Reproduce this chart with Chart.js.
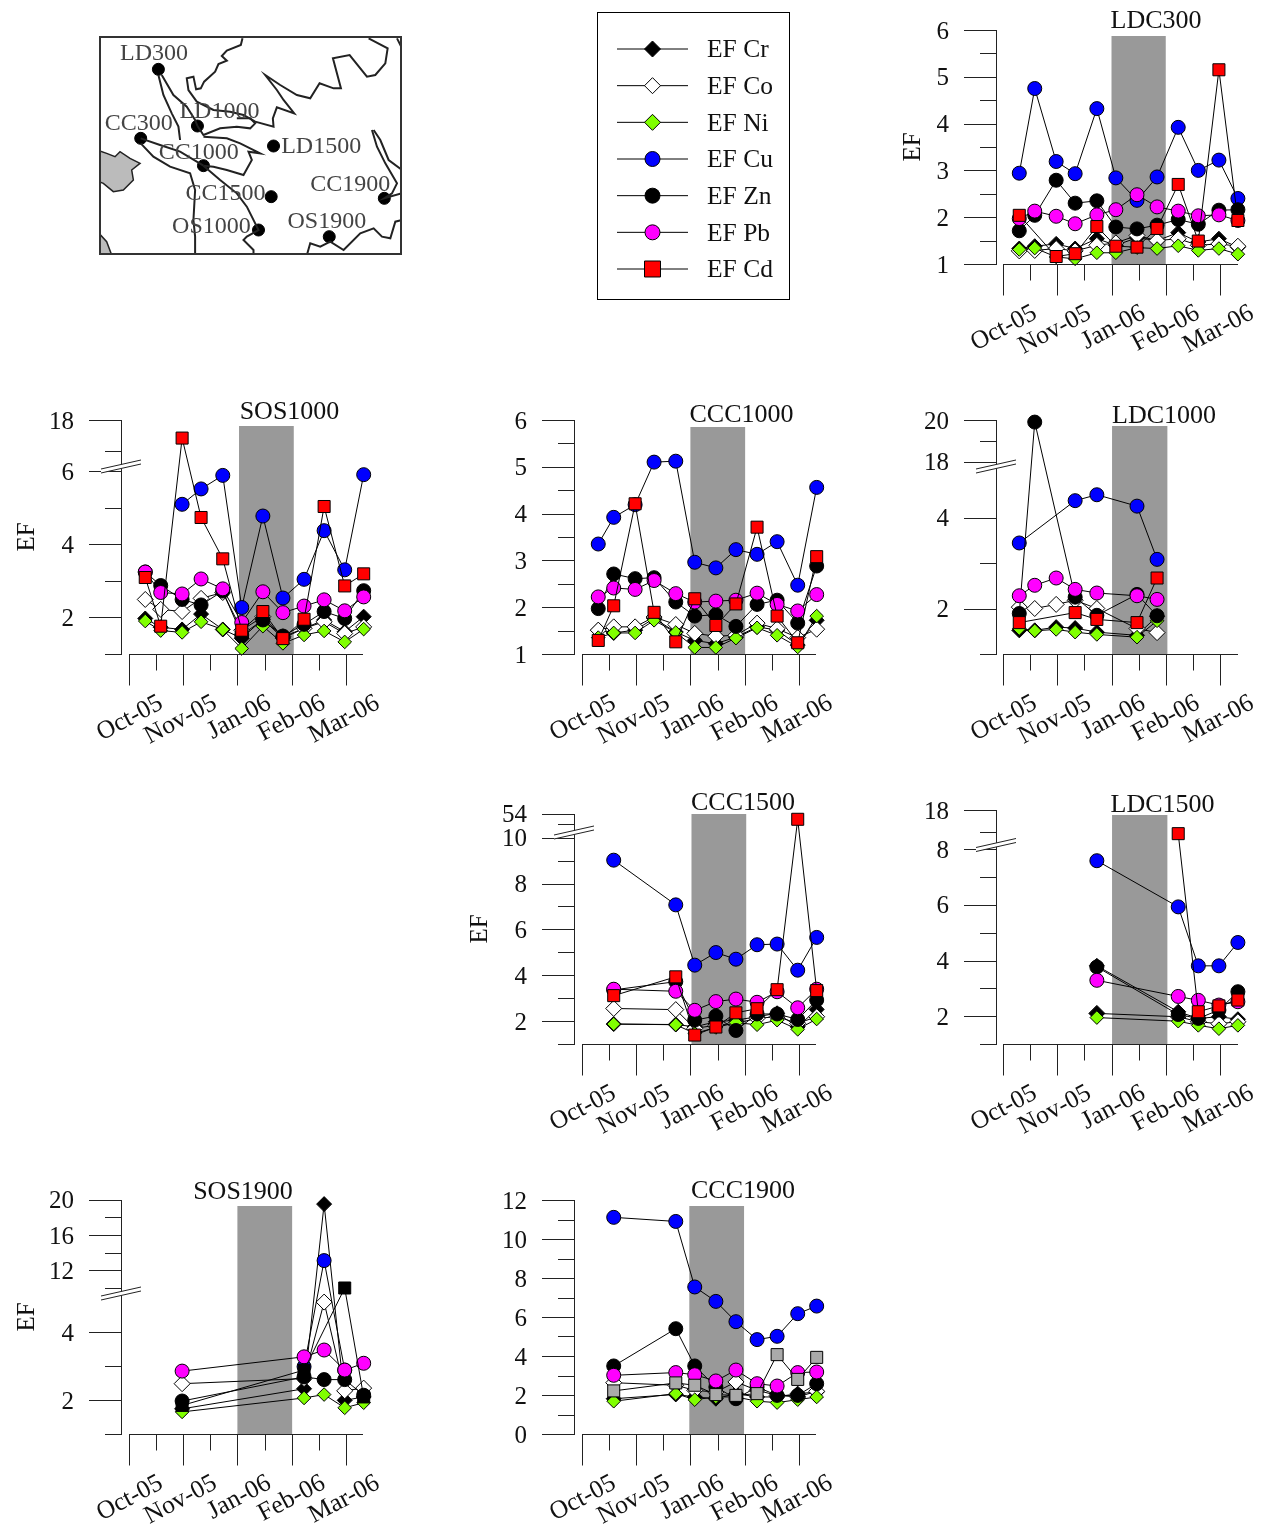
<!DOCTYPE html>
<html>
<head>
<meta charset="utf-8">
<title>EF panels</title>
<style>
  html, body { margin: 0; padding: 0; background: #fff; }
  #page { position: relative; width: 1268px; height: 1526px; overflow: hidden; }
  canvas { position: absolute; display: block; }
</style>
<script src="https://cdn.jsdelivr.net/npm/chart.js@4/dist/chart.umd.js"></script>
</head>
<body>
<div id="page"></div>
<script>
const serif = "'Liberation Serif', 'Times New Roman', serif";

const months = ["Oct-05", "Nov-05", "Jan-06", "Feb-06", "Mar-06"];
const sampleX = [0.30, 0.585, 0.98, 1.33, 1.73, 2.08, 2.47, 2.84, 3.23, 3.60, 3.98, 4.33];
const metals = ["EF Cr", "EF Co", "EF Ni", "EF Cu", "EF Zn", "EF Pb", "EF Cd"];

// LDC300
const ldc300Cr = [1.33, 1.38, 1.43, 1.33, 1.54, 1.40, 1.56, 1.50, 1.67, 1.47, 1.54, 1.36];
const ldc300Co = [1.28, 1.29, 1.33, 1.28, 1.40, 1.45, 1.61, 1.50, 1.54, 1.40, 1.43, 1.38];
const ldc300Ni = [1.31, 1.34, 1.15, 1.11, 1.24, 1.24, 1.35, 1.33, 1.39, 1.29, 1.33, 1.21];
const ldc300Cu = [2.94, 4.75, 3.19, 2.93, 4.32, 2.84, 2.36, 2.86, 3.92, 3.00, 3.22, 2.40];
const ldc300Zn = [1.71, 2.04, 2.79, 2.30, 2.35, 1.79, 1.75, 1.83, 1.95, 1.85, 2.15, 2.16];
const ldc300Pb = [1.97, 2.13, 2.02, 1.86, 2.05, 2.16, 2.48, 2.22, 2.13, 2.03, 2.05, 1.93];
const ldc300Cd = [2.04, null, 1.16, 1.22, 1.80, 1.38, 1.36, 1.76, 2.70, 1.49, 5.15, 1.93];

// SOS1000
const sos1000Cr = [1.97, 1.73, 1.67, 2.09, 1.67, 1.43, 1.95, 1.43, 1.70, 1.93, 1.61, 2.02];
const sos1000Co = [2.49, 2.22, 2.16, 2.52, 2.68, 1.65, 2.02, 1.47, 1.70, 1.88, 1.56, 1.74];
const sos1000Ni = [1.90, 1.64, 1.59, 1.88, 1.67, 1.15, 1.76, 1.29, 1.52, 1.63, 1.33, 1.68];
const sos1000Cu = [null, null, 5.09, 5.51, 5.88, 2.27, 4.77, 2.53, 3.04, 4.37, 3.30, 5.90];
const sos1000Zn = [3.24, 2.87, 2.49, 2.34, 2.72, 1.52, 1.93, 1.49, 1.81, 2.16, 1.97, 2.73];
const sos1000Pb = [3.24, 2.68, 2.64, 3.05, 2.78, 1.86, 2.70, 2.13, 2.31, 2.48, 2.18, 2.56];
const sos1000Cd = [3.09, 1.76, 14.5, 4.73, 3.60, 1.65, 2.16, 1.42, 1.95, 5.03, 2.86, 3.19];

// CCC1000
const ccc1000Cr = [1.51, 1.45, 1.51, 1.76, 1.47, 1.29, 1.22, 1.36, 1.58, 1.51, 1.19, 1.72];
const ccc1000Co = [1.51, 1.58, 1.58, 1.79, 1.63, 1.44, 1.38, 1.40, 1.66, 1.54, 1.35, 1.53];
const ccc1000Ni = [1.35, 1.45, 1.45, 1.72, 1.46, 1.14, 1.14, 1.34, 1.56, 1.40, 1.15, 1.81];
const ccc1000Cu = [3.35, 3.92, 4.19, 5.10, 5.12, 2.96, 2.84, 3.23, 3.13, 3.40, 2.47, 4.56];
const ccc1000Zn = [1.97, 2.71, 2.61, 2.63, 2.11, 1.81, 1.84, 1.59, 2.06, 2.15, 1.66, 2.88];
const ccc1000Pb = [2.22, 2.41, 2.38, 2.57, 2.29, 2.11, 2.13, 2.15, 2.30, 2.06, 1.92, 2.27];
const ccc1000Cd = [1.29, 2.03, 4.21, 1.89, 1.26, 2.18, 1.61, 2.07, 3.71, 1.81, 1.24, 3.08];

// LDC1000
const ldc1000Cr = [1.52, 1.52, 1.59, 1.57, 1.48, null, 1.41, 1.83, null, null, null, null];
const ldc1000Co = [2.03, 2.00, 2.09, 2.18, 2.00, null, 1.56, 1.47, null, null, null, null];
const ldc1000Ni = [1.56, 1.51, 1.54, 1.48, 1.43, null, 1.37, 1.73, null, null, null, null];
const ldc1000Cu = [3.44, null, null, 4.37, 4.50, null, 4.25, 3.08, null, null, null, null];
const ldc1000Zn = [1.89, 19.9, null, 2.25, 1.85, null, 2.31, 1.84, null, null, null, null];
const ldc1000Pb = [2.28, 2.51, 2.67, 2.42, 2.34, null, 2.28, 2.20, null, null, null, null];
const ldc1000Cd = [1.69, null, null, 1.91, 1.76, null, 1.69, 2.67, null, null, null, null];

// CCC1500
const ccc1500Cr = [null, 1.87, null, null, 1.85, 1.75, 1.97, 2.04, 2.19, 2.34, 1.75, 2.51];
const ccc1500Co = [null, 2.55, null, null, 2.50, 1.68, 1.82, 1.90, 2.12, 2.19, 1.90, 2.19];
const ccc1500Ni = [null, 1.87, null, null, 1.84, 1.46, 1.72, 1.93, 1.84, 2.04, 1.64, 2.09];
const ccc1500Cu = [null, 9.02, null, null, 7.07, 4.44, 4.99, 4.70, 5.33, 5.36, 4.22, 5.65];
const ccc1500Zn = [null, 3.36, null, null, 3.72, 2.04, 2.22, 1.59, 2.31, 2.31, 2.07, 2.92];
const ccc1500Pb = [null, 3.39, null, null, 3.30, 2.47, 2.85, 2.96, 2.82, 3.28, 2.58, 3.39];
const ccc1500Cd = [null, 3.11, null, null, 3.93, 1.39, 1.74, 2.36, 2.54, 3.37, 44, 3.33];

// LDC1500
const ldc1500Cr = [null, null, null, null, 3.81, null, null, null, 2.16, 1.92, 1.98, 1.89];
const ldc1500Co = [null, null, null, null, 2.10, null, null, null, 1.98, 1.80, 1.73, 1.80];
const ldc1500Ni = [null, null, null, null, 1.95, null, null, null, 1.82, 1.67, 1.55, 1.67];
const ldc1500Cu = [null, null, null, null, 7.59, null, null, null, 5.93, 3.81, 3.81, 4.65];
const ldc1500Zn = [null, null, null, null, 3.77, null, null, null, 2.06, 1.92, 2.22, 2.88];
const ldc1500Pb = [null, null, null, null, 3.29, null, null, null, 2.71, 2.57, 2.40, 2.52];
const ldc1500Cd = [null, null, null, null, null, null, null, null, 12.6, 2.16, 2.37, 2.58];

// SOS1900
const sos1900Cr = [null, null, 1.74, null, null, null, null, null, 2.33, 19.5, 1.99, 2.09];
const sos1900Co = [null, null, 2.48, null, null, null, null, null, 2.63, 4.88, 2.27, 2.35];
const sos1900Ni = [null, null, 1.65, null, null, null, null, null, 2.06, 2.16, 1.77, 1.92];
const sos1900Cu = [null, null, null, null, null, null, null, null, 2.98, 13.1, 2.88, null];
const sos1900Zn = [null, null, 1.97, null, null, null, null, null, 2.68, 2.60, 2.60, 2.14];
const sos1900Pb = [null, null, 2.85, null, null, null, null, null, 3.27, 3.47, 2.88, 3.08];
const sos1900Cd = [null, null, 1.84, null, null, null, null, null, 2.88, null, 10.0, 2.09];

// CCC1900
const ccc1900Cr = [null, 1.81, null, null, 2.03, 1.90, 1.81, 2.07, 1.90, 1.90, 2.07, 2.15];
const ccc1900Co = [null, 2.63, null, null, 2.50, 2.24, 2.15, 2.67, 2.24, 1.98, 1.90, 2.19];
const ccc1900Ni = [null, 1.68, null, null, 2.07, 1.76, 1.90, 1.90, 1.68, 1.61, 1.76, 1.90];
const ccc1900Cu = [null, 11.11, null, null, 10.9, 7.54, 6.80, 5.76, 4.84, 5.01, 6.17, 6.56];
const ccc1900Zn = [null, 3.49, null, null, 5.40, 3.49, 2.41, 1.81, 2.41, 1.98, 1.98, 2.58];
const ccc1900Pb = [null, 3.01, null, null, 3.15, 3.04, 2.72, 3.28, 2.58, 2.46, 3.15, 3.18];
const ccc1900Cd = [null, 2.21, null, null, 2.62, 2.50, 2.02, 1.98, 2.07, 4.07, 2.80, 3.93];

// site map, traced in the map's own units
const siteNames = ["LD300", "LD1000", "CC300", "CC1000", "LD1500", "CC1500", "CC1900", "OS1000", "OS1900"];
const siteX = [235, 352, 182, 370, 580, 573, 912, 535, 747];
const siteY = [148, 318, 355, 437, 378, 530, 535, 630, 650];
const siteLabelX = [120, 298, 74, 236, 603, 316, 690, 276, 622];
const siteLabelY = [120, 295, 330, 418, 400, 540, 513, 640, 625];
const rivers = [
  [[487,55],[482,75],[440,92],[425,108],[440,122],[415,132],[405,155],[372,185],[362,205],[348,208],[340,170],[320,175],[325,210],[350,245],[400,270],[450,275],[490,285],[525,305],[580,320],[578,295],[590,262],[642,280],[610,240],[590,210],[555,165],[600,195],[650,225],[690,235],[718,190],[760,205],[782,205],[758,115],[808,105],[860,170],[885,165],[915,130],[922,85],[865,55]],
  [[235,165],[250,225],[275,280],[295,320],[300,360]],
  [[245,165],[280,225],[320,260],[345,300],[352,318]],
  [[352,318],[370,345],[420,325],[470,320],[510,325],[525,310],[510,295],[470,295]],
  [[370,350],[440,355],[480,370],[540,400],[505,395],[515,420],[490,465],[440,450],[400,440],[370,437]],
  [[182,370],[220,410],[270,440],[330,460],[345,510],[340,600],[345,650],[345,705]],
  [[182,355],[240,375],[300,395],[370,437]],
  [[370,437],[420,480],[470,520],[500,560],[515,590],[535,630],[500,650],[490,660],[520,690],[520,705]],
  [[875,330],[890,380],[915,430],[950,490],[935,520],[912,535],[965,520]],
  [[880,330],[900,360],[925,420],[965,450]],
  [[680,705],[690,670],[720,680],[750,665],[790,690],[840,640],[880,625],[905,650],[930,655],[945,605],[965,600]],
  [[950,55],[965,85]]
];
const lands = [
  [[57,392],[80,400],[105,410],[120,395],[150,415],[180,430],[155,450],[160,480],[130,510],[100,515],[70,490],[57,485]],
  [[57,640],[80,665],[95,705],[57,705]]
];

// pixel layout of each panel
const panels = [
  { name: "LDC300", axis: 996, top: 30, bottom: 264, x0: 1003, xEnd: 1238, unit: 54.25, band: [2.0, 3.0], bandTop: 36,
    titleX: 1156, titleY: 28, ef: 83, min: 1, max: 6,
    yTicks: [1, 2, 3, 4, 5, 6], yMinor: [1.5, 2.5, 3.5, 4.5, 5.5],
    data: [ldc300Cr, ldc300Co, ldc300Ni, ldc300Cu, ldc300Zn, ldc300Pb, ldc300Cd] },
  { name: "SOS1000", axis: 121, top: 420, bottom: 654, x0: 129, xEnd: 363, unit: 54.2, band: [2.03, 3.04], bandTop: 426,
    titleX: 289.5, titleY: 419, ef: 94, min: 1, max: 18, breakY: 466.5,
    knots: [[1, 654], [6, 471], [12, 451], [18, 420]],
    yTicks: [2, 4, 6, 18], yMinor: [1, 3, 5, 12],
    data: [sos1000Cr, sos1000Co, sos1000Ni, sos1000Cu, sos1000Zn, sos1000Pb, sos1000Cd] },
  { name: "CCC1000", axis: 574, top: 420, bottom: 654, x0: 582, xEnd: 816, unit: 54.2, band: [2.0, 3.01], bandTop: 427,
    titleX: 741.5, titleY: 422, min: 1, max: 6,
    yTicks: [1, 2, 3, 4, 5, 6], yMinor: [1.5, 2.5, 3.5, 4.5, 5.5],
    data: [ccc1000Cr, ccc1000Co, ccc1000Ni, ccc1000Cu, ccc1000Zn, ccc1000Pb, ccc1000Cd] },
  { name: "LDC1000", axis: 996, top: 420, bottom: 654, x0: 1003, xEnd: 1238, unit: 54.25, band: [2.01, 3.03], bandTop: 426,
    titleX: 1164, titleY: 423, min: 1, max: 20, breakY: 466.5,
    knots: [[1, 654], [4, 517.5], [5, 472], [18, 461.7], [20, 420]],
    yTicks: [2, 4, 18, 20], yMinor: [1, 3, 19],
    data: [ldc1000Cr, ldc1000Co, ldc1000Ni, ldc1000Cu, ldc1000Zn, ldc1000Pb, ldc1000Cd] },
  { name: "CCC1500", axis: 574, top: 814, bottom: 1044, x0: 582, xEnd: 816, unit: 54.2, band: [2.02, 3.03], bandTop: 814,
    titleX: 743, titleY: 810, ef: 94, min: 1, max: 54, breakY: 832.5,
    knots: [[1, 1044], [10, 837.7], [35, 824.3], [54, 813.7]],
    yTicks: [2, 4, 6, 8, 10, 54], yMinor: [1, 3, 5, 7, 9, 35],
    data: [ccc1500Cr, ccc1500Co, ccc1500Ni, ccc1500Cu, ccc1500Zn, ccc1500Pb, ccc1500Cd] },
  { name: "LDC1500", axis: 996, top: 810, bottom: 1044, x0: 1003, xEnd: 1238, unit: 54.25, band: [2.01, 3.03], bandTop: 815,
    titleX: 1162.5, titleY: 812, min: 1, max: 18, breakY: 845,
    knots: [[1, 1044], [8, 849.3], [13, 832.3], [18, 810]],
    yTicks: [2, 4, 6, 8, 18], yMinor: [1, 3, 5, 7, 13],
    coFill: ctx => (ctx.dataIndex === 4 ? "#000" : "#fff"),
    data: [ldc1500Cr, ldc1500Co, ldc1500Ni, ldc1500Cu, ldc1500Zn, ldc1500Pb, ldc1500Cd] },
  { name: "SOS1900", axis: 121, top: 1200, bottom: 1434, x0: 129, xEnd: 363, unit: 54.2, band: [2.0, 3.01], bandTop: 1206,
    titleX: 243, titleY: 1199, ef: 94, min: 1, max: 20, breakY: 1293.5, cdFill: "#000",
    knots: [[1, 1434], [4, 1332], [5, 1298], [10, 1288], [12, 1270.3], [20, 1199.7]],
    yTicks: [2, 4, 12, 16, 20], yMinor: [1, 3, 10, 14, 18],
    data: [sos1900Cr, sos1900Co, sos1900Ni, sos1900Cu, sos1900Zn, sos1900Pb, sos1900Cd] },
  { name: "CCC1900", axis: 574, top: 1200, bottom: 1434, x0: 582, xEnd: 816, unit: 54.2, band: [1.98, 2.99], bandTop: 1206,
    titleX: 743, titleY: 1198, min: 0, max: 12, cdFill: "#aaa",
    yTicks: [0, 2, 4, 6, 8, 10, 12], yMinor: [1, 3, 5, 7, 9, 11],
    data: [ccc1900Cr, ccc1900Co, ccc1900Ni, ccc1900Cu, ccc1900Zn, ccc1900Pb, ccc1900Cd] }
];

const metalStyle = [
  { pointStyle: "rectRot", fill: "#000", radius: 7.5, legendRadius: 8 },
  { pointStyle: "rectRot", fill: "#fff", radius: 8, legendRadius: 8 },
  { pointStyle: "rectRot", fill: "#80ff00", radius: 6.8, legendRadius: 8 },
  { pointStyle: "circle", fill: "#0000ff", radius: 7, legendRadius: 7.5 },
  { pointStyle: "circle", fill: "#000", radius: 7, legendRadius: 7.5 },
  { pointStyle: "circle", fill: "#ff00ff", radius: 7, legendRadius: 7.5 },
  { pointStyle: "rect", fill: "#ff0000", radius: 8.5, legendRadius: 11.3 }
];

// linear scale with piecewise segments, for the broken axes
class BrokenScale extends Chart.LinearScale {
  getPixelForValue(value) {
    if (value === null || value === undefined) return NaN;
    const k = this.options.knots;
    for (let i = 1; i < k.length; i++) {
      if (value <= k[i][0] || i === k.length - 1) {
        const t = (value - k[i - 1][0]) / (k[i][0] - k[i - 1][0]);
        return k[i - 1][1] + t * (k[i][1] - k[i - 1][1]) + this.top - this.options.pageTop;
      }
    }
    return NaN;
  }
}
BrokenScale.id = "broken";
BrokenScale.defaults = Chart.LinearScale.defaults;
Chart.register(BrokenScale);

const page = document.getElementById("page");

function addCanvas(left, top, width, height) {
  const c = document.createElement("canvas");
  c.width = width;
  c.height = height;
  c.style.left = left + "px";
  c.style.top = top + "px";
  page.appendChild(c);
  return c;
}

function panelFurniture(p) {
  return {
    id: "furniture",
    beforeDatasetsDraw(chart) {
      const { ctx, scales: { x, y } } = chart;
      const shiftY = y.top - p.top;
      ctx.save();
      ctx.fillStyle = "#999";
      const bx0 = x.getPixelForValue(p.band[0]);
      const bx1 = x.getPixelForValue(p.band[1]);
      ctx.fillRect(bx0, p.bandTop + shiftY, bx1 - bx0, y.bottom - p.bandTop - shiftY);
      ctx.restore();
    },
    afterDraw(chart) {
      const { ctx, scales: { x, y } } = chart;
      const shiftY = y.top - p.top;
      const ax = x.left;
      ctx.save();
      ctx.strokeStyle = "#222";
      ctx.lineWidth = 1;
      const seg = (x1, y1, x2, y2) => {
        ctx.beginPath();
        ctx.moveTo(x1, y1);
        ctx.lineTo(x2, y2);
        ctx.stroke();
      };
      const snap = v => Math.round(v) + 0.5;
      // y ticks
      p.yTicks.forEach(v => { const py = snap(y.getPixelForValue(v)); seg(ax - 32, py, ax, py); });
      p.yMinor.forEach(v => { const py = snap(y.getPixelForValue(v)); seg(ax - 16, py, ax, py); });
      // x axis sits a little right of the y axis
      const base = snap(y.bottom);
      seg(x.getPixelForValue(0), base, x.getPixelForValue(x.max), base);
      months.forEach((m, i) => { const px = snap(x.getPixelForValue(i)); seg(px, base, px, base + 31); });
      [0.5, 1.5, 2.5, 3.5].forEach(v => { const px = snap(x.getPixelForValue(v)); seg(px, base, px, base + 16); });
      // axis break
      if (p.breakY) {
        const cy = p.breakY + shiftY;
        ctx.fillStyle = "#fff";
        ctx.beginPath();
        ctx.moveTo(ax - 20, cy + 2.5);
        ctx.lineTo(ax + 20, cy - 6.5);
        ctx.lineTo(ax + 20, cy - 2.5);
        ctx.lineTo(ax - 20, cy + 6.5);
        ctx.closePath();
        ctx.fill();
        seg(ax - 20, cy + 2.5, ax + 20, cy - 6.5);
        seg(ax - 20, cy + 6.5, ax + 20, cy - 2.5);
      }
      // panel title
      ctx.fillStyle = "#111";
      ctx.font = "26px " + serif;
      ctx.textAlign = "center";
      ctx.textBaseline = "alphabetic";
      ctx.fillText(p.name, p.titleX - p.canvasLeft, p.titleY - p.canvasTop);
      ctx.restore();
    }
  };
}

const areaLeft = 120, areaTop = 45, areaBottom = 95, areaRight = 35;

panels.forEach(p => {
  p.canvasLeft = p.axis - areaLeft;
  p.canvasTop = p.top - areaTop;
  const width = areaLeft + (p.xEnd - p.axis) + areaRight;
  const height = areaTop + (p.bottom - p.top) + areaBottom;
  const canvas = addCanvas(p.canvasLeft, p.canvasTop, width, height);
  const datasets = p.data.map((ys, i) => {
    const st = metalStyle[i];
    let fill = st.fill;
    if (i === 6 && p.cdFill) fill = p.cdFill;
    if (i === 1 && p.coFill) fill = p.coFill;
    return {
      label: metals[i],
      data: ys.map((y, j) => ({ x: sampleX[j], y })),
      order: -i,
      spanGaps: true,
      clip: false,
      tension: 0,
      borderColor: "#000",
      borderWidth: 1,
      pointStyle: st.pointStyle,
      pointRadius: st.radius,
      pointBackgroundColor: fill,
      pointBorderColor: "#000",
      pointBorderWidth: 1
    };
  });
  const yOpts = {
    type: p.knots ? "broken" : "linear",
    min: p.min,
    max: p.max,
    position: "left",
    grid: { display: false, drawTicks: false },
    border: { display: true, color: "#222", width: 1 },
    afterFit(scale) {
      scale.width = areaLeft;
      scale.paddingTop = 0;
      scale.paddingBottom = 0;
    },
    afterBuildTicks(scale) { scale.ticks = p.yTicks.map(value => ({ value })); },
    ticks: {
      autoSkip: false,
      padding: 47,
      labelOffset: 2,
      color: "#111",
      font: { family: serif, size: 25 },
      callback: v => String(v)
    },
    title: p.ef ? {
      display: true,
      text: "EF",
      color: "#111",
      font: { family: serif, size: 25 },
      padding: { top: areaLeft - p.ef - 15, bottom: 0 }
    } : { display: false }
  };
  if (p.knots) {
    yOpts.knots = p.knots;
    yOpts.pageTop = p.top;
  }
  new Chart(canvas, {
    type: "line",
    data: { datasets },
    plugins: [panelFurniture(p)],
    options: {
      responsive: false,
      animation: false,
      events: [],
      layout: { autoPadding: false, padding: { top: areaTop, right: areaRight, bottom: 0, left: 0 } },
      plugins: { legend: { display: false }, tooltip: { enabled: false } },
      scales: {
        x: {
          type: "linear",
          min: -(p.x0 - p.axis) / p.unit,
          max: (p.xEnd - p.x0) / p.unit,
          grid: { display: false, drawTicks: false },
          border: { display: false },
          afterFit(scale) {
            scale.height = areaBottom;
            scale.paddingLeft = 0;
            scale.paddingRight = 0;
          },
          afterBuildTicks(scale) { scale.ticks = months.map((m, i) => ({ value: i })); },
          ticks: {
            autoSkip: false,
            minRotation: 28,
            maxRotation: 28,
            labelOffset: 32,
            padding: 34,
            color: "#111",
            font: { family: serif, size: 25.5 },
            callback: v => months[v]
          }
        },
        y: yOpts
      }
    }
  });
});

// legend box
(function () {
  const canvas = addCanvas(597, 12, 193, 288);
  const datasets = metals.map((name, i) => ({
    label: name,
    data: [{ x: 0, y: i }, { x: 0.5, y: i }, { x: 1, y: i }],
    clip: false,
    borderColor: "#000",
    borderWidth: 1,
    pointStyle: metalStyle[i].pointStyle,
    pointRadius: [0, metalStyle[i].legendRadius, 0],
    pointBackgroundColor: metalStyle[i].fill,
    pointBorderColor: "#000",
    pointBorderWidth: 1
  }));
  new Chart(canvas, {
    type: "line",
    data: { datasets },
    plugins: [{
      id: "legendBox",
      afterDraw(chart) {
        const { ctx, width, height } = chart;
        ctx.save();
        ctx.strokeStyle = "#000";
        ctx.lineWidth = 1;
        ctx.strokeRect(0.5, 0.5, width - 1, height - 1);
        ctx.restore();
      }
    }],
    options: {
      responsive: false,
      animation: false,
      events: [],
      layout: { autoPadding: false, padding: { left: 20, top: 37, bottom: 31, right: 0 } },
      plugins: { legend: { display: false }, tooltip: { enabled: false } },
      scales: {
        x: { type: "linear", min: 0, max: 1, display: false },
        y: {
          type: "linear",
          position: "right",
          reverse: true,
          min: 0,
          max: 6,
          grid: { display: false, drawTicks: false },
          border: { display: false },
          afterFit(scale) {
            scale.width = 102;
            scale.paddingTop = 0;
            scale.paddingBottom = 0;
          },
          afterBuildTicks(scale) { scale.ticks = metals.map((m, i) => ({ value: i })); },
          ticks: {
            autoSkip: false,
            padding: 19,
            labelOffset: 1.5,
            color: "#111",
            font: { family: serif, size: 25.5 },
            callback: v => metals[v]
          }
        }
      }
    }
  });
})();

// site map
(function () {
  const canvas = addCanvas(99, 36, 303, 219);
  const datasets = [];
  lands.forEach(shape => datasets.push({
    data: shape.map(([x, y]) => ({ x, y })),
    borderColor: "#222",
    borderWidth: 1.5,
    backgroundColor: "#bbb",
    fill: "shape",
    pointRadius: 0,
    tension: 0
  }));
  rivers.forEach(line => datasets.push({
    data: line.map(([x, y]) => ({ x, y })),
    borderColor: "#222",
    borderWidth: 2,
    pointRadius: 0,
    tension: 0
  }));
  datasets.push({
    data: siteX.map((x, i) => ({ x, y: siteY[i] })),
    showLine: false,
    pointStyle: "circle",
    pointRadius: 6,
    pointBackgroundColor: "#000",
    pointBorderColor: "#000"
  });
  new Chart(canvas, {
    type: "line",
    data: { datasets },
    plugins: [{
      id: "mapText",
      afterDraw(chart) {
        const { ctx, scales: { x, y }, chartArea: a } = chart;
        ctx.save();
        ctx.fillStyle = "#444";
        ctx.font = "24px " + serif;
        ctx.textAlign = "left";
        ctx.textBaseline = "alphabetic";
        siteNames.forEach((name, i) => {
          ctx.fillText(name, x.getPixelForValue(siteLabelX[i]), y.getPixelForValue(siteLabelY[i]));
        });
        ctx.strokeStyle = "#333";
        ctx.lineWidth = 2;
        ctx.strokeRect(a.left + 1, a.top + 1, a.width - 2, a.height - 2);
        ctx.restore();
      }
    }],
    options: {
      responsive: false,
      animation: false,
      events: [],
      layout: { autoPadding: false, padding: 0 },
      plugins: { legend: { display: false }, tooltip: { enabled: false } },
      scales: {
        x: { type: "linear", min: 57, max: 965, display: false },
        y: { type: "linear", reverse: true, min: 48, max: 705, display: false }
      }
    }
  });
})();
</script>
</body>
</html>
